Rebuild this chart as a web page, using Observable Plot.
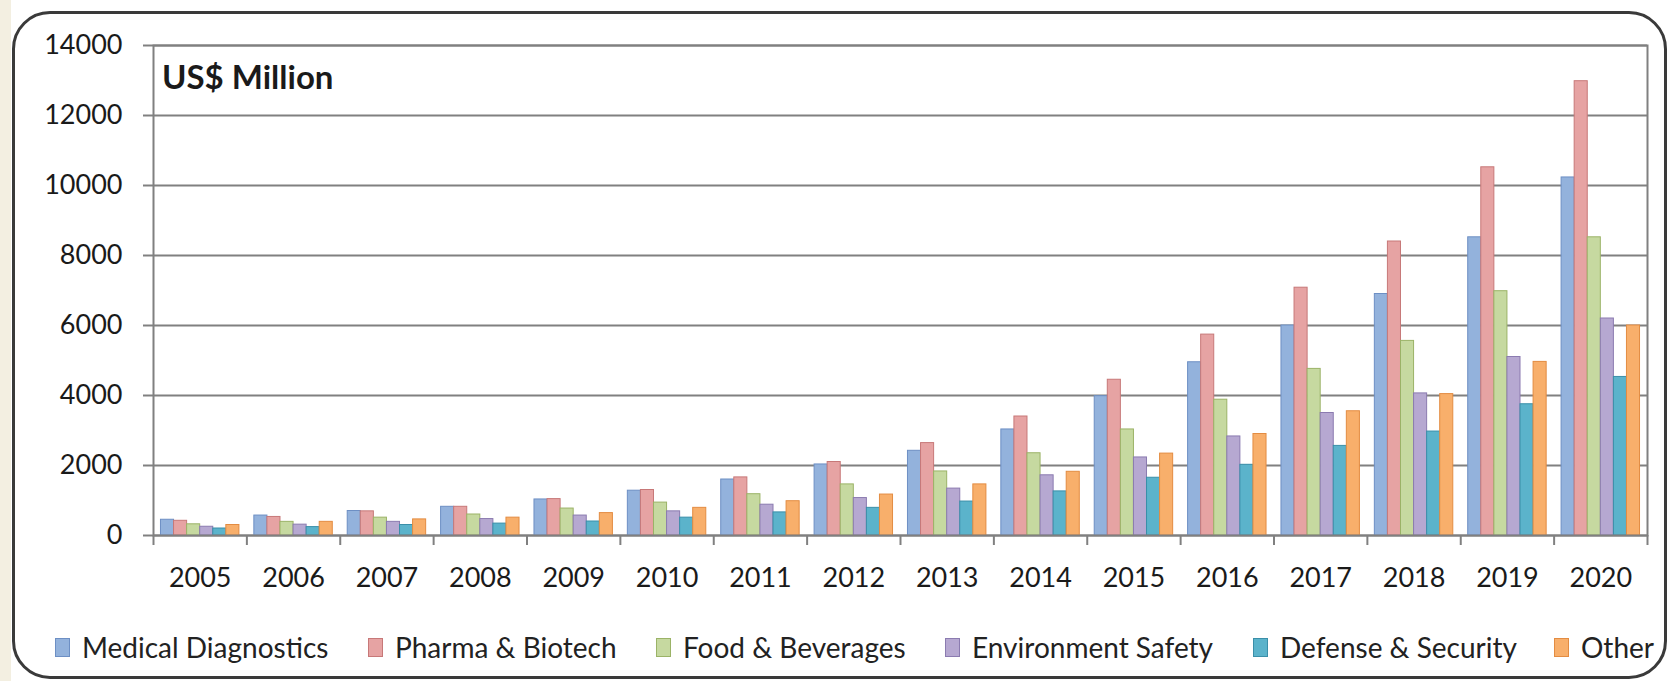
<!DOCTYPE html>
<html>
<head>
<meta charset="utf-8">
<script src="https://cdn.jsdelivr.net/npm/d3@7"></script>
<script src="https://cdn.jsdelivr.net/npm/@observablehq/plot@0.6"></script>
<style>
  body { margin: 0; background: #fff; font-family: Lato, "Liberation Sans", sans-serif; }
  #wrap { position: relative; width: 1672px; height: 681px; overflow: hidden; background: #fff; }
  #strip { position: absolute; left: 0; top: 0; width: 11px; height: 681px; background: #f3efe1; }
  #box { position: absolute; left: 12px; top: 11px; width: 1655px; height: 668px; border: 3px solid #3a3a3a;
         border-radius: 38px; box-sizing: border-box; }
  #chart { position: absolute; left: 0; top: 0; }
  #title { position: absolute; left: 162px; top: 60px; font: bold 33px Lato, "Liberation Sans", sans-serif; line-height: 1; color: #1a1a1a; }
  .item { position: absolute; top: 636px; height: 22px; display: flex; align-items: center; font-size: 28px; color: #222; white-space: nowrap; }
  .sw { display: inline-block; width: 15px; height: 19px; box-sizing: border-box; border: 1px solid; margin-right: 12px; }
</style>
</head>
<body>
<div id="wrap">
  <div id="strip"></div>
  <div id="box"></div>
  <div id="chart"></div>
  <div id="title">US$ Million</div>
  <div id="legend"></div>
</div>
<script>
const years = ["2005","2006","2007","2008","2009","2010","2011","2012","2013","2014","2015","2016","2017","2018","2019","2020"];
const seriesNames = ["Medical Diagnostics", "Pharma & Biotech", "Food & Beverages", "Environment Safety", "Defense & Security", "Other"];
const medical     = [450, 570, 700, 820, 1030, 1280, 1600, 2030, 2420, 3030, 3980, 4950, 6000, 6900, 8520, 10230];
const pharma      = [420, 530, 690, 820, 1040, 1300, 1660, 2100, 2640, 3400, 4450, 5740, 7080, 8400, 10520, 12980];
const food        = [320, 390, 510, 600, 770, 940, 1180, 1460, 1830, 2350, 3030, 3880, 4760, 5560, 6980, 8520];
const environment = [250, 310, 390, 470, 570, 690, 880, 1070, 1340, 1720, 2230, 2830, 3500, 4060, 5100, 6200];
const defense     = [200, 240, 300, 340, 400, 510, 660, 790, 970, 1260, 1650, 2020, 2560, 2970, 3750, 4530];
const other       = [300, 390, 460, 510, 640, 790, 980, 1170, 1460, 1820, 2340, 2900, 3550, 4040, 4960, 6000];
const yTicks = [0, 2000, 4000, 6000, 8000, 10000, 12000, 14000];

const seriesValues = [medical, pharma, food, environment, defense, other];
const fills   = ["#93b2dc", "#e6a3a3", "#c6d9a0", "#b6a8d1", "#5bb3cb", "#f8af6b"];
const strokes = ["#6d8fc4", "#c77878", "#9bb367", "#8b7bb0", "#3a8fa9", "#e38c42"];

const W = 1672, H = 600, mL = 153, mR = 25, mT = 45, mB = 65;
const padIn = 0.16, padOut = 0.08;
const step = (W - mL - mR) / years.length;
const bw = step * (1 - padIn);
const sub = bw / seriesNames.length;
const gray = "#808080";

const barMarks = seriesValues.map((vals, i) =>
  Plot.barY(years.map((yr, j) => ({year: yr, value: vals[j], series: seriesNames[i]})), {
    x: "year", y: "value", fill: fills[i], stroke: strokes[i], strokeWidth: 1,
    insetLeft: i * sub, insetRight: (seriesNames.length - 1 - i) * sub
  })
);

const chart = Plot.plot({
  width: W, height: H,
  marginLeft: mL, marginRight: mR, marginTop: mT, marginBottom: mB,
  style: {fontFamily: "Lato, 'Liberation Sans', sans-serif", color: "#1a1a1a", background: "transparent", overflow: "visible"},
  x: {type: "band", domain: years, paddingInner: padIn, paddingOuter: padOut, round: false, axis: null, label: null},
  y: {domain: [0, 14000], axis: null, label: null},
  marks: [
    Plot.gridY(yTicks, {stroke: gray, strokeOpacity: 1, strokeWidth: 2}),
    ...barMarks,
    Plot.frame({stroke: gray, strokeWidth: 2}),
    Plot.ruleX(years, {x: d => d, dx: -step / 2, y1: 0, y2: 0, insetBottom: -10, stroke: gray, strokeWidth: 2}),
    Plot.ruleX([years[years.length - 1]], {x: d => d, dx: step / 2, y1: 0, y2: 0, insetBottom: -10, stroke: gray, strokeWidth: 2}),
    Plot.axisY(yTicks, {tickSize: 10, tickPadding: 21, fontSize: 27, tickFormat: d => String(d), stroke: gray, strokeWidth: 2, fill: "#1a1a1a", label: null}),
    Plot.axisX({tickSize: 0, tickPadding: 32, fontSize: 27, fill: "#1a1a1a", label: null})
  ]
});
document.getElementById("chart").appendChild(chart);

const legendX = [55, 368, 656, 945, 1253, 1554];
const legend = document.getElementById("legend");
seriesNames.forEach((name, i) => {
  const item = document.createElement("div");
  item.className = "item";
  item.style.left = legendX[i] + "px";
  const sw = document.createElement("span");
  sw.className = "sw";
  sw.style.background = fills[i];
  sw.style.borderColor = strokes[i];
  const t = document.createElement("span");
  t.textContent = name;
  item.appendChild(sw);
  item.appendChild(t);
  legend.appendChild(item);
});
</script>
</body>
</html>
